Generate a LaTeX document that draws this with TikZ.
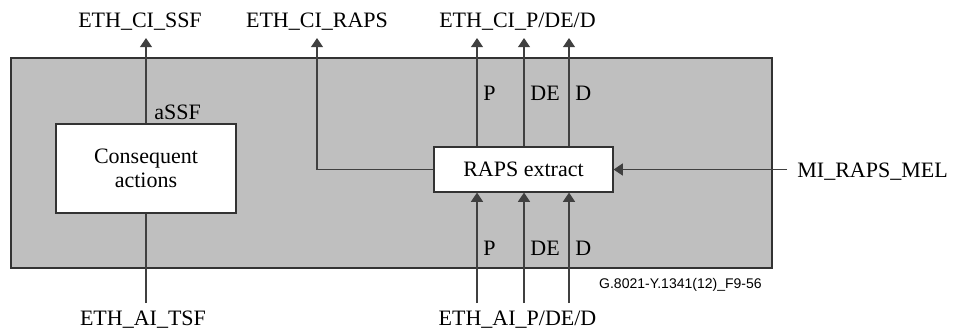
\documentclass[tikz,border=0pt]{standalone}
\usepackage{fontspec}
\setmainfont{Liberation Serif}
\newfontfamily\figfont{Liberation Sans}
\usetikzlibrary{arrows.meta}
\tikzset{
  area/.style={draw=black!80,fill=black!25,line width=.6pt},
  blk/.style={draw=black!80,fill=white,line width=.6pt,inner sep=0pt,align=center,
    font=\fontsize{11}{12}\selectfont},
  sig/.style={draw=black!75,line width=.6pt},
  sigarr/.style={sig,-{Triangle[length=4.6pt,width=6pt]}},
  lb/.style={font=\fontsize{11}{12}\selectfont,inner sep=0pt},
  fid/.style={font=\figfont\fontsize{7}{8}\selectfont,inner sep=0pt},
}
\begin{document}
\begin{tikzpicture}[x=0.5pt,y=-0.5pt]
\useasboundingbox (0,0) rectangle (967,332);
% the function as a whole
\draw[area] (11,58) rectangle (772,268);
% the two blocks inside
\node[blk,minimum width=90pt,minimum height=44.5pt] (ca) at (146,168.5) {Consequent\\actions};
\node[blk,minimum width=89.5pt,minimum height=22.5pt] (raps) at (523.5,169.5) {RAPS extract};
% free ends of the signals
\coordinate (ssf) at (146,38);
\coordinate (tsf) at (146,303);
\coordinate (ciraps) at (317,38);
\coordinate (mel) at (787,169.5);
\foreach \n/\x in {p/477,de/524,d/569}{
  \coordinate (o\n) at (\x,38);
  \coordinate (i\n) at (\x,303);
}
% signals
\draw[sigarr] (ca.north) -- (ssf);
\draw[sig] (tsf) -- (ca.south);
\draw[sigarr] (raps.west) -| (ciraps);
\draw[sigarr] (mel) -- (raps.east);
\foreach \n in {p,de,d}{
  \draw[sigarr] (raps.north -| o\n) -- (o\n);
  \draw[sigarr] (i\n) -- (raps.south -| i\n);
}
% labels
\node[lb,anchor=base] at (140,27) {ETH\_CI\_SSF};
\node[lb,anchor=base] at (317,27) {ETH\_CI\_RAPS};
\node[lb,anchor=base] at (517.5,27) {ETH\_CI\_P/DE/D};
\node[lb,anchor=base] at (143,325) {ETH\_AI\_TSF};
\node[lb,anchor=base] at (517.5,325) {ETH\_AI\_P/DE/D};
\node[lb,anchor=base west] at (154,119) {aSSF};
\node[lb,anchor=base west] at (797,177) {MI\_RAPS\_MEL};
\foreach \t/\x in {P/483,DE/530,D/575}{
  \node[lb,anchor=base west] at (\x,100) {\t};
  \node[lb,anchor=base west] at (\x,255) {\t};
}
\node[fid,anchor=base east] at (762,288) {G.8021-Y.1341(12)\_F9-56};
\end{tikzpicture}
\end{document}
